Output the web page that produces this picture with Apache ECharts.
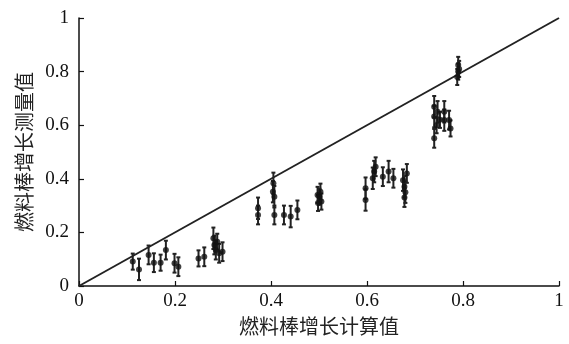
<!DOCTYPE html>
<html>
<head>
<meta charset="utf-8">
<script src="https://cdn.jsdelivr.net/npm/echarts@6.0.0/dist/echarts.min.js"></script>
<style>
  html, body { margin: 0; padding: 0; background: #fff; }
  #chart { width: 569px; height: 344px; }
</style>
</head>
<body>
<div id="chart"></div>
<script>
// calculated rod growth (x)
const calcVals = [
  0.112, 0.125, 0.145, 0.156, 0.170, 0.181, 0.199, 0.207,
  0.249, 0.261, 0.280, 0.282, 0.285, 0.292, 0.299, 0.288,
  0.373, 0.373, 0.404, 0.405, 0.407, 0.407, 0.427, 0.441, 0.455,
  0.497, 0.501, 0.503, 0.505, 0.498,
  0.597, 0.597, 0.612, 0.615, 0.618, 0.633, 0.645, 0.655, 0.675, 0.678, 0.678, 0.683, 0.680,
  0.740, 0.740, 0.740, 0.747, 0.752, 0.761, 0.761, 0.771, 0.774, 0.745,
  0.790, 0.790, 0.788, 0.792
]
// measured rod growth (y)
const measVals = [
  0.091, 0.062, 0.116, 0.087, 0.087, 0.134, 0.085, 0.072,
  0.103, 0.109, 0.178, 0.153, 0.134, 0.122, 0.128, 0.165,
  0.290, 0.265, 0.352, 0.383, 0.333, 0.265, 0.265, 0.259, 0.284,
  0.340, 0.333, 0.352, 0.315, 0.310,
  0.365, 0.321, 0.402, 0.427, 0.445, 0.408, 0.427, 0.402, 0.395, 0.370, 0.330, 0.420, 0.350,
  0.669, 0.632, 0.551, 0.650, 0.620, 0.650, 0.619, 0.619, 0.588, 0.600,
  0.825, 0.800, 0.780, 0.810
]
// half length of measurement error bar
const errVals = [
  0.030, 0.040, 0.035, 0.035, 0.030, 0.035, 0.035, 0.035,
  0.030, 0.035, 0.040, 0.035, 0.035, 0.035, 0.035, 0.030,
  0.040, 0.035, 0.040, 0.040, 0.040, 0.035, 0.035, 0.040, 0.035,
  0.030, 0.030, 0.030, 0.030, 0.030,
  0.040, 0.040, 0.040, 0.040, 0.035, 0.035, 0.040, 0.035, 0.040, 0.040, 0.035, 0.035, 0.040,
  0.040, 0.040, 0.035, 0.040, 0.030, 0.040, 0.040, 0.035, 0.030, 0.030,
  0.030, 0.030, 0.030, 0.030
]
const ticks = [0, 0.2, 0.4, 0.6, 0.8, 1]

const points = calcVals.map((x, i) => [x, measVals[i]])
const bars = calcVals.map((x, i) => [x, measVals[i] - errVals[i], measVals[i] + errVals[i]])

const serif = '"Liberation Serif", "DejaVu Serif", serif'
const cjk = '"Noto Sans CJK SC", sans-serif'

const axisCommon = {
  min: 0, max: 1, interval: 0.2,
  splitLine: { show: false },
  axisLine: { lineStyle: { color: '#111', width: 1.5 } },
  axisTick: { inside: true, length: 5, lineStyle: { color: '#111', width: 1.2 } },
  axisLabel: {
    color: '#111', fontFamily: serif, fontSize: 19,
    formatter: v => ticks.includes(v) ? String(v) : ''
  },
  nameLocation: 'middle',
  nameTextStyle: { color: '#222', fontFamily: cjk, fontSize: 20 }
}

var chart = echarts.init(document.getElementById('chart'))
chart.setOption({
  animation: false,
  grid: { left: 79, right: 10, top: 18, bottom: 58 },
  xAxis: Object.assign({}, axisCommon, {
    type: 'value', name: '燃料棒增长计算值', nameGap: 30,
    axisLabel: Object.assign({}, axisCommon.axisLabel, { margin: 6 })
  }),
  yAxis: Object.assign({}, axisCommon, {
    type: 'value', name: '燃料棒增长测量值', nameGap: 43, nameRotate: 90,
    axisLabel: Object.assign({}, axisCommon.axisLabel, { margin: 10 })
  }),
  series: [
    {
      type: 'line',
      data: [[0, 0], [1, 1]],
      symbol: 'none',
      lineStyle: { color: '#222', width: 2 },
      z: 1
    },
    {
      type: 'custom',
      data: bars,
      renderItem: function (params, api) {
        const lo = api.coord([api.value(0), api.value(1)])
        const hi = api.coord([api.value(0), api.value(2)])
        const c = 2
        const style = { stroke: '#222', lineWidth: 2 }
        return {
          type: 'group',
          children: [
            { type: 'line', shape: { x1: lo[0], y1: lo[1], x2: hi[0], y2: hi[1] }, style: style },
            { type: 'line', shape: { x1: lo[0] - c, y1: lo[1], x2: lo[0] + c, y2: lo[1] }, style: style },
            { type: 'line', shape: { x1: hi[0] - c, y1: hi[1], x2: hi[0] + c, y2: hi[1] }, style: style }
          ]
        }
      },
      z: 2
    },
    {
      type: 'scatter',
      data: points,
      symbol: 'circle',
      symbolSize: 6,
      itemStyle: { color: '#111' },
      z: 3
    }
  ]
})
</script>
</body>
</html>
